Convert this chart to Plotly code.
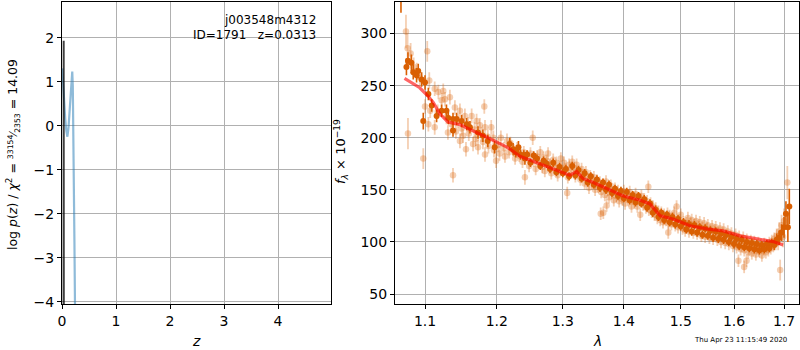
import plotly.graph_objects as go

# ---------------- left panel: log p(z) ----------------
pz_z = [0.005, 0.02, 0.04, 0.06, 0.08, 0.10, 0.12, 0.14, 0.16, 0.18, 0.19, 0.20, 0.21, 0.22, 0.23, 0.24, 0.25]
pz_logp = [1.3, 0.95, 0.55, 0.15, -0.12, -0.25, -0.05, 0.35, 0.85, 1.18, 1.23, 0.9, 0.0, -1.2, -2.6, -4.0, -4.6]
best_z = [0.0290, 0.0313, 0.0336]
best_logp = [-4.3, 1.93, -4.3]

# ---------------- right panel: spectrum ----------------
faint_wave = [
    1.0749, 1.0770, 1.0810, 1.0775, 1.0977, 1.1030, 1.0890, 1.0850, 1.0930, 1.1057,
    1.1130, 1.1180, 1.1246, 1.1000, 1.1070, 1.1045, 1.1130, 1.1224, 1.1270, 1.1337,
    1.1406, 1.1476, 1.1545, 1.1640, 1.1710, 1.1820, 1.1757, 1.1830, 1.1920, 1.1476,
    1.1560, 1.1660, 1.1730, 1.1830, 1.1990, 1.1380, 1.2060, 1.2150, 1.2417, 1.2535,
    1.1170, 1.1290, 1.1310, 1.1360, 1.1420, 1.1450, 1.1500, 1.1520, 1.1600, 1.1590,
    1.1680, 1.1700, 1.1780, 1.1800, 1.1870, 1.1880, 1.1950, 1.1960, 1.2020, 1.2040,
    1.2100, 1.2120, 1.2180, 1.2200, 1.2250, 1.2270, 1.2300, 1.2330, 1.2380, 1.2400,
    1.2450, 1.2480, 1.2500, 1.2550, 1.2580, 1.2600,
    1.2630, 1.2650, 1.2680, 1.2700, 1.2720, 1.2750, 1.2770, 1.2800, 1.2820, 1.2850,
    1.2870, 1.2900, 1.2920, 1.2950, 1.2970, 1.3000, 1.3020, 1.3070, 1.3040, 1.3080,
    1.3100, 1.3130, 1.3150, 1.3180, 1.3200, 1.3220, 1.3250, 1.3280, 1.3300, 1.3320,
    1.3350, 1.3370, 1.3400, 1.3420, 1.3440, 1.3470, 1.3500, 1.3520, 1.3550, 1.3570,
    1.3612, 1.3655, 1.3710, 1.3600, 1.3620, 1.3650, 1.3680, 1.3700, 1.3730, 1.3750,
    1.3780, 1.3800, 1.3830, 1.3850, 1.3870, 1.3900, 1.3920, 1.3950, 1.3970, 1.4000,
    1.4020, 1.4050, 1.4080, 1.4100, 1.4130, 1.4150, 1.4180, 1.4200, 1.4230, 1.4250,
    1.4280, 1.4300, 1.4330, 1.4350, 1.4380, 1.4400, 1.4430, 1.4421, 1.4460, 1.4480,
    1.4500, 1.4530, 1.4550, 1.4580, 1.4600, 1.4630, 1.4650, 1.4680, 1.4700, 1.4774,
    1.4730, 1.4760, 1.4780, 1.4800, 1.4830, 1.4850, 1.4880, 1.4900, 1.4924, 1.4930,
    1.4950, 1.4980, 1.5000, 1.5030, 1.5050, 1.5080, 1.5100, 1.5130, 1.5150, 1.5180,
    1.5200, 1.5230, 1.5250, 1.5280, 1.5300, 1.5330, 1.5350, 1.5380, 1.5400, 1.5430,
    1.5450, 1.5480, 1.5500, 1.5530, 1.5550, 1.5580, 1.5600, 1.5630, 1.5650, 1.5680,
    1.5700, 1.5730, 1.5750, 1.5780, 1.5800, 1.5830, 1.5850, 1.5880, 1.5900, 1.5930,
    1.5950, 1.5980, 1.6000, 1.6030, 1.6050, 1.6080, 1.6100, 1.6130, 1.6150, 1.6086,
    1.6198, 1.6245, 1.6180, 1.6200, 1.6230, 1.6250, 1.6280, 1.6300, 1.6330, 1.6350,
    1.6380, 1.6400, 1.6430, 1.6450, 1.6480, 1.6500, 1.6530, 1.6550, 1.6580, 1.6600,
    1.6630, 1.6650, 1.6680, 1.6700, 1.6730, 1.6750, 1.6780, 1.6800, 1.6830, 1.6850,
    1.6880, 1.6900, 1.6921, 1.6950, 1.6980, 1.7000, 1.7069,
]
faint_flux = [
    302, 286, 281, 204, 180, 283, 264, 268, 258, 255,
    247, 244, 245, 230, 226, 213, 210, 236, 237, 239,
    229, 226, 221, 221, 216, 230, 212, 210, 210, 197,
    189, 194, 191, 184, 178, 164, 200, 197, 162, 200,
    225, 220, 205, 213, 206, 216, 209, 202, 204, 213,
    208, 199, 203, 196, 201, 192, 200, 188, 193, 185,
    190, 182, 186, 195, 188, 180, 190, 183, 177, 186,
    182, 173, 185, 178, 170, 182,
    176, 186, 172, 181, 168, 178, 185, 174, 166, 179,
    171, 176, 164, 172, 180, 168, 176, 147, 170, 162,
    174, 168, 177, 171, 163, 174, 168, 160, 170, 164,
    156, 167, 160, 152, 163, 157, 162, 150, 159, 153,
    127, 128, 135, 157, 148, 155, 145, 158, 150, 143,
    154, 147, 140, 151, 144, 149, 139, 147, 141, 149,
    137, 145, 140, 148, 134, 143, 138, 146, 134, 142,
    126, 144, 136, 141, 133, 139, 131, 153, 137, 129,
    134, 126, 132, 123, 129, 121, 128, 119, 126, 109,
    121, 127, 118, 125, 117, 123, 128, 116, 134, 122,
    114, 121, 126, 113, 119, 111, 118, 123, 110, 117,
    121, 109, 116, 120, 108, 114, 119, 106, 113, 118,
    105, 112, 116, 104, 110, 115, 103, 109, 114, 102,
    108, 113, 100, 107, 112, 99, 106, 110, 98, 104,
    108, 96, 103, 107, 95, 101, 105, 93, 99, 82,
    76, 82, 104, 92, 98, 102, 90, 96, 101, 89,
    95, 100, 88, 94, 99, 91, 97, 87, 93, 98,
    90, 96, 92, 99, 94, 101, 96, 103, 98, 106,
    100, 110, 73, 116, 105, 120, 157,
]
faint_err = [
    16, 14, 10, 15, 10, 10, 8, 9, 8, 8,
    7, 7, 7, 7, 7, 7, 7, 7, 7, 7,
    7, 7, 7, 7, 7, 7, 7, 7, 7, 7,
    7, 7, 7, 7, 7, 7, 7, 7, 7, 7,
    7, 7, 7, 7, 7, 7, 7, 7, 7, 7,
    7, 7, 7, 7, 7, 7, 7, 7, 7, 7,
    6, 6, 6, 6, 6, 6, 6, 6, 6, 6,
    6, 6, 6, 6, 6, 6,
    6, 6, 6, 6, 6, 6, 6, 6, 6, 6,
    6, 6, 6, 6, 6, 6, 6, 6, 6, 6,
    6, 6, 6, 6, 6, 6, 6, 6, 6, 6,
    6, 6, 6, 6, 6, 6, 6, 6, 6, 6,
    6, 6, 6, 6, 6, 6, 6, 6, 6, 6,
    6, 6, 6, 6, 6, 6, 6, 6, 6, 6,
    6, 6, 6, 6, 6, 6, 6, 6, 6, 6,
    6, 6, 6, 6, 6, 6, 6, 6, 6, 6,
    6, 6, 6, 6, 6, 6, 6, 6, 6, 6,
    6, 6, 6, 6, 6, 6, 6, 6, 6, 6,
    6, 6, 6, 6, 6, 6, 6, 6, 6, 6,
    6, 6, 6, 6, 6, 6, 6, 6, 6, 6,
    6, 6, 6, 6, 6, 6, 6, 6, 6, 6,
    6, 6, 6, 6, 6, 6, 6, 6, 6, 6,
    6, 6, 6, 6, 6, 6, 6, 6, 6, 6,
    6, 6, 6, 6, 6, 6, 6, 6, 6, 6,
    6, 6, 6, 6, 6, 6, 6, 6, 6, 6,
    6, 6, 6, 6, 6, 6, 6, 6, 6, 7,
    8, 9, 10, 10, 10, 12, 16,
]

dark_wave = [
    1.0684, 1.0775, 1.0820, 1.0755, 1.0844, 1.0888, 1.0910, 1.0955, 1.1000, 1.1045,
    1.1090, 1.1156, 1.0977, 1.1224, 1.1290, 1.1315, 1.1380, 1.1430, 1.1380, 1.1500,
    1.1570, 1.1616, 1.1730, 1.1800, 1.1870, 1.1970, 1.2190, 1.2240, 1.2320, 1.2417,
    1.2280, 1.2350, 1.2400,
    1.2450, 1.2500, 1.2550, 1.2600, 1.2650, 1.2700, 1.2750, 1.2800, 1.2850, 1.2900,
    1.2950, 1.3000, 1.3050, 1.3100, 1.3150, 1.3200, 1.3250, 1.3300, 1.3350, 1.3400,
    1.3450, 1.3500, 1.3550, 1.3600, 1.3650, 1.3700, 1.3750, 1.3800, 1.3850, 1.3900,
    1.3950, 1.4000, 1.4050, 1.4100, 1.4150, 1.4200, 1.4250, 1.4300, 1.4350, 1.4400,
    1.4450, 1.4500, 1.4550, 1.4600, 1.4650, 1.4700, 1.4750, 1.4800, 1.4850, 1.4900,
    1.4950, 1.5000, 1.5050, 1.5100, 1.5150, 1.5200, 1.5250, 1.5300, 1.5350, 1.5400,
    1.5450, 1.5500, 1.5550, 1.5600, 1.5650, 1.5700, 1.5750, 1.5800, 1.5850, 1.5900,
    1.5950, 1.6000, 1.6050, 1.6100, 1.6150, 1.6200, 1.6250, 1.6300, 1.6350, 1.6400,
    1.6450, 1.6500, 1.6550, 1.6600, 1.6650, 1.6700, 1.6750, 1.6800, 1.6850, 1.6900,
    1.6950, 1.7000, 1.7040, 1.7080, 1.7110,
]
dark_flux = [
    340, 274, 272, 268, 263, 260, 264, 256, 253, 242,
    231, 221, 216, 226, 226, 219, 218, 218, 207, 216,
    213, 210, 205, 202, 197, 191, 194, 189, 191, 180,
    186, 184, 183,
    184, 176, 183, 180, 173, 178, 175, 170, 176, 167,
    172, 166, 170, 163, 173, 164, 169, 161, 166, 157,
    163, 155, 160, 152, 157, 150, 155, 147, 151, 144,
    149, 142, 148, 140, 145, 138, 144, 137, 141, 133,
    137, 128, 131, 124, 128, 121, 126, 119, 124, 117,
    122, 115, 119, 112, 117, 110, 116, 109, 114, 107,
    113, 106, 111, 104, 110, 103, 108, 102, 107, 100,
    105, 98, 103, 96, 102, 95, 100, 94, 99, 93,
    98, 92, 97, 93, 98, 94, 99, 97, 102, 104,
    109, 114, 127, 114, 134,
]
dark_err = [
    20, 8, 8, 8, 7, 7, 7, 7, 7, 6,
    6, 6, 8, 6, 6, 6, 6, 6, 6, 6,
    6, 6, 6, 6, 6, 6, 6, 6, 6, 6,
    5, 5, 5,
    4, 4, 4, 4, 4, 4, 4, 4, 4, 4,
    4, 4, 4, 4, 4, 4, 4, 4, 4, 4,
    4, 4, 4, 4, 4, 4, 4, 4, 4, 4,
    4, 4, 4, 4, 4, 4, 4, 4, 4, 4,
    4, 4, 4, 4, 4, 4, 4, 4, 4, 4,
    4, 4, 4, 4, 4, 4, 4, 4, 4, 4,
    4, 4, 4, 4, 4, 4, 4, 4, 4, 4,
    4, 4, 4, 4, 4, 4, 4, 4, 4, 4,
    4, 4, 4, 4, 4, 4, 4, 5, 6, 7,
    8, 10, 12, 14, 17,
]

model_wave = [1.073, 1.093, 1.104, 1.111, 1.120, 1.131, 1.148, 1.166, 1.190, 1.215,
              1.235, 1.260, 1.285, 1.311, 1.322, 1.332, 1.349, 1.371, 1.399, 1.428,
              1.445, 1.463, 1.486, 1.517, 1.548, 1.579, 1.612, 1.645, 1.678, 1.698]
model_flux = [257, 248, 240, 234, 223, 215, 212.5, 207, 199, 191,
              182, 176, 170, 164, 167.5, 161, 157, 151, 144, 140,
              136.5, 125, 122, 115.5, 112.5, 110.6, 105.8, 103, 100.3, 97]

lam_ticks = [1.1, 1.2, 1.3, 1.4, 1.5, 1.6, 1.7]
flux_ticks = [50, 100, 150, 200, 250, 300]
z_ticks = [0, 1, 2, 3, 4]
logp_ticks = [-4, -3, -2, -1, 0, 1, 2]

FONT = "DejaVu Sans"
DARK = "rgb(217,95,2)"
FAINT = "rgba(217,95,2,0.3)"

fig = go.Figure()

fig.add_trace(go.Scatter(x=pz_z, y=pz_logp, mode="lines", xaxis="x", yaxis="y",
                         line=dict(color="rgba(31,119,180,0.5)", width=2.2), showlegend=False))
fig.add_trace(go.Scatter(x=best_z, y=best_logp, mode="lines", xaxis="x", yaxis="y",
                         line=dict(color="rgba(0,0,0,0.75)", width=2), showlegend=False))

fig.add_trace(go.Scatter(x=faint_wave, y=faint_flux, mode="markers", xaxis="x2", yaxis="y2",
                         marker=dict(color=FAINT, size=6.5, line=dict(width=0)),
                         error_y=dict(type="data", array=faint_err, color=FAINT, thickness=1.8, width=0),
                         showlegend=False))
fig.add_trace(go.Scatter(x=dark_wave, y=dark_flux, mode="markers", xaxis="x2", yaxis="y2",
                         marker=dict(color=DARK, size=6, line=dict(width=0)),
                         error_y=dict(type="data", array=dark_err, color=DARK, thickness=1.6, width=0),
                         showlegend=False))
fig.add_trace(go.Scatter(x=model_wave, y=model_flux, mode="lines", xaxis="x2", yaxis="y2",
                         line=dict(color="rgba(255,0,0,0.6)", width=3.2), showlegend=False))

ax_common = dict(showline=True, mirror=True, linecolor="black", linewidth=1,
                 ticks="outside", ticklen=4, tickwidth=1, tickcolor="black",
                 showgrid=True, gridcolor="#b0b0b0", gridwidth=1, zeroline=False,
                 automargin=False,
                 tickfont=dict(family=FONT, size=14, color="black"))

ydom = [1 - 304 / 350, 1 - 1.5 / 350]

def minus(v):
    s = f"{v:g}"
    return s.replace("-", "\u2212")

fig.update_layout(
    width=800, height=350, margin=dict(l=0, r=0, t=0, b=0, autoexpand=False),
    paper_bgcolor="white", plot_bgcolor="white",
    font=dict(family=FONT, size=14, color="black"),
    xaxis=dict(domain=[62 / 800, 331 / 800], anchor="y", range=[0, 4.98],
               tickvals=z_ticks, ticktext=[minus(v) for v in z_ticks], **ax_common),
    yaxis=dict(domain=ydom, anchor="x", range=[-4.05, 2.82],
               tickvals=logp_ticks, ticktext=[minus(v) for v in logp_ticks], **ax_common),
    xaxis2=dict(domain=[395 / 800, 799 / 800], anchor="y2", type="log", range=[0.02559, 0.23835],
                tickvals=lam_ticks, ticktext=[f"{v:.1f}" for v in lam_ticks], **ax_common),
    yaxis2=dict(domain=ydom, anchor="x2", range=[40.4, 330.8],
                tickvals=flux_ticks, ticktext=[str(v) for v in flux_ticks], **ax_common),
)

ylabel_left = ("log <i>p</i>(<i>z</i>) / <i>χ</i><sup>2</sup> = "
               "<span style='font-size:11px'><sup>33154</sup>⁄<sub>2353</sub></span> = 14.09")

ann = [
    dict(text="j003548m4312", x=318 / 800, y=1 - 20 / 350, xanchor="right", yanchor="middle", font=dict(size=12)),
    dict(text="ID=1791&nbsp;&nbsp;&nbsp;z=0.0313", x=318 / 800, y=1 - 35 / 350, xanchor="right", yanchor="middle", font=dict(size=12)),
    dict(text=ylabel_left,
         x=13 / 800, y=1 - 155 / 350, xanchor="center", yanchor="middle", textangle=-90, font=dict(size=12.5)),
    dict(text="<i>f</i><sub><i>λ</i></sub> × 10<sup>−19</sup>",
         x=341 / 800, y=1 - 152 / 350, xanchor="center", yanchor="middle", textangle=-90, font=dict(size=13)),
    dict(text="<i>z</i>", x=196 / 800, y=1 - 341 / 350, xanchor="center", yanchor="middle", font=dict(size=14)),
    dict(text="<i>λ</i>", x=597 / 800, y=1 - 341 / 350, xanchor="center", yanchor="middle", font=dict(size=14)),
    dict(text="Thu Apr 23 11:15:49 2020", x=789 / 800, y=1 - 340 / 350, xanchor="right", yanchor="middle", font=dict(size=7)),
]
for a in ann:
    a.update(xref="paper", yref="paper", showarrow=False)
    a.setdefault("font", {})
    a["font"].setdefault("family", FONT)
    a["font"].setdefault("color", "black")
fig.update_layout(annotations=ann)

fig.write_html("out.html", config={"displayModeBar": False},
               post_script="document.body.style.margin='0';document.body.style.padding='0';")
